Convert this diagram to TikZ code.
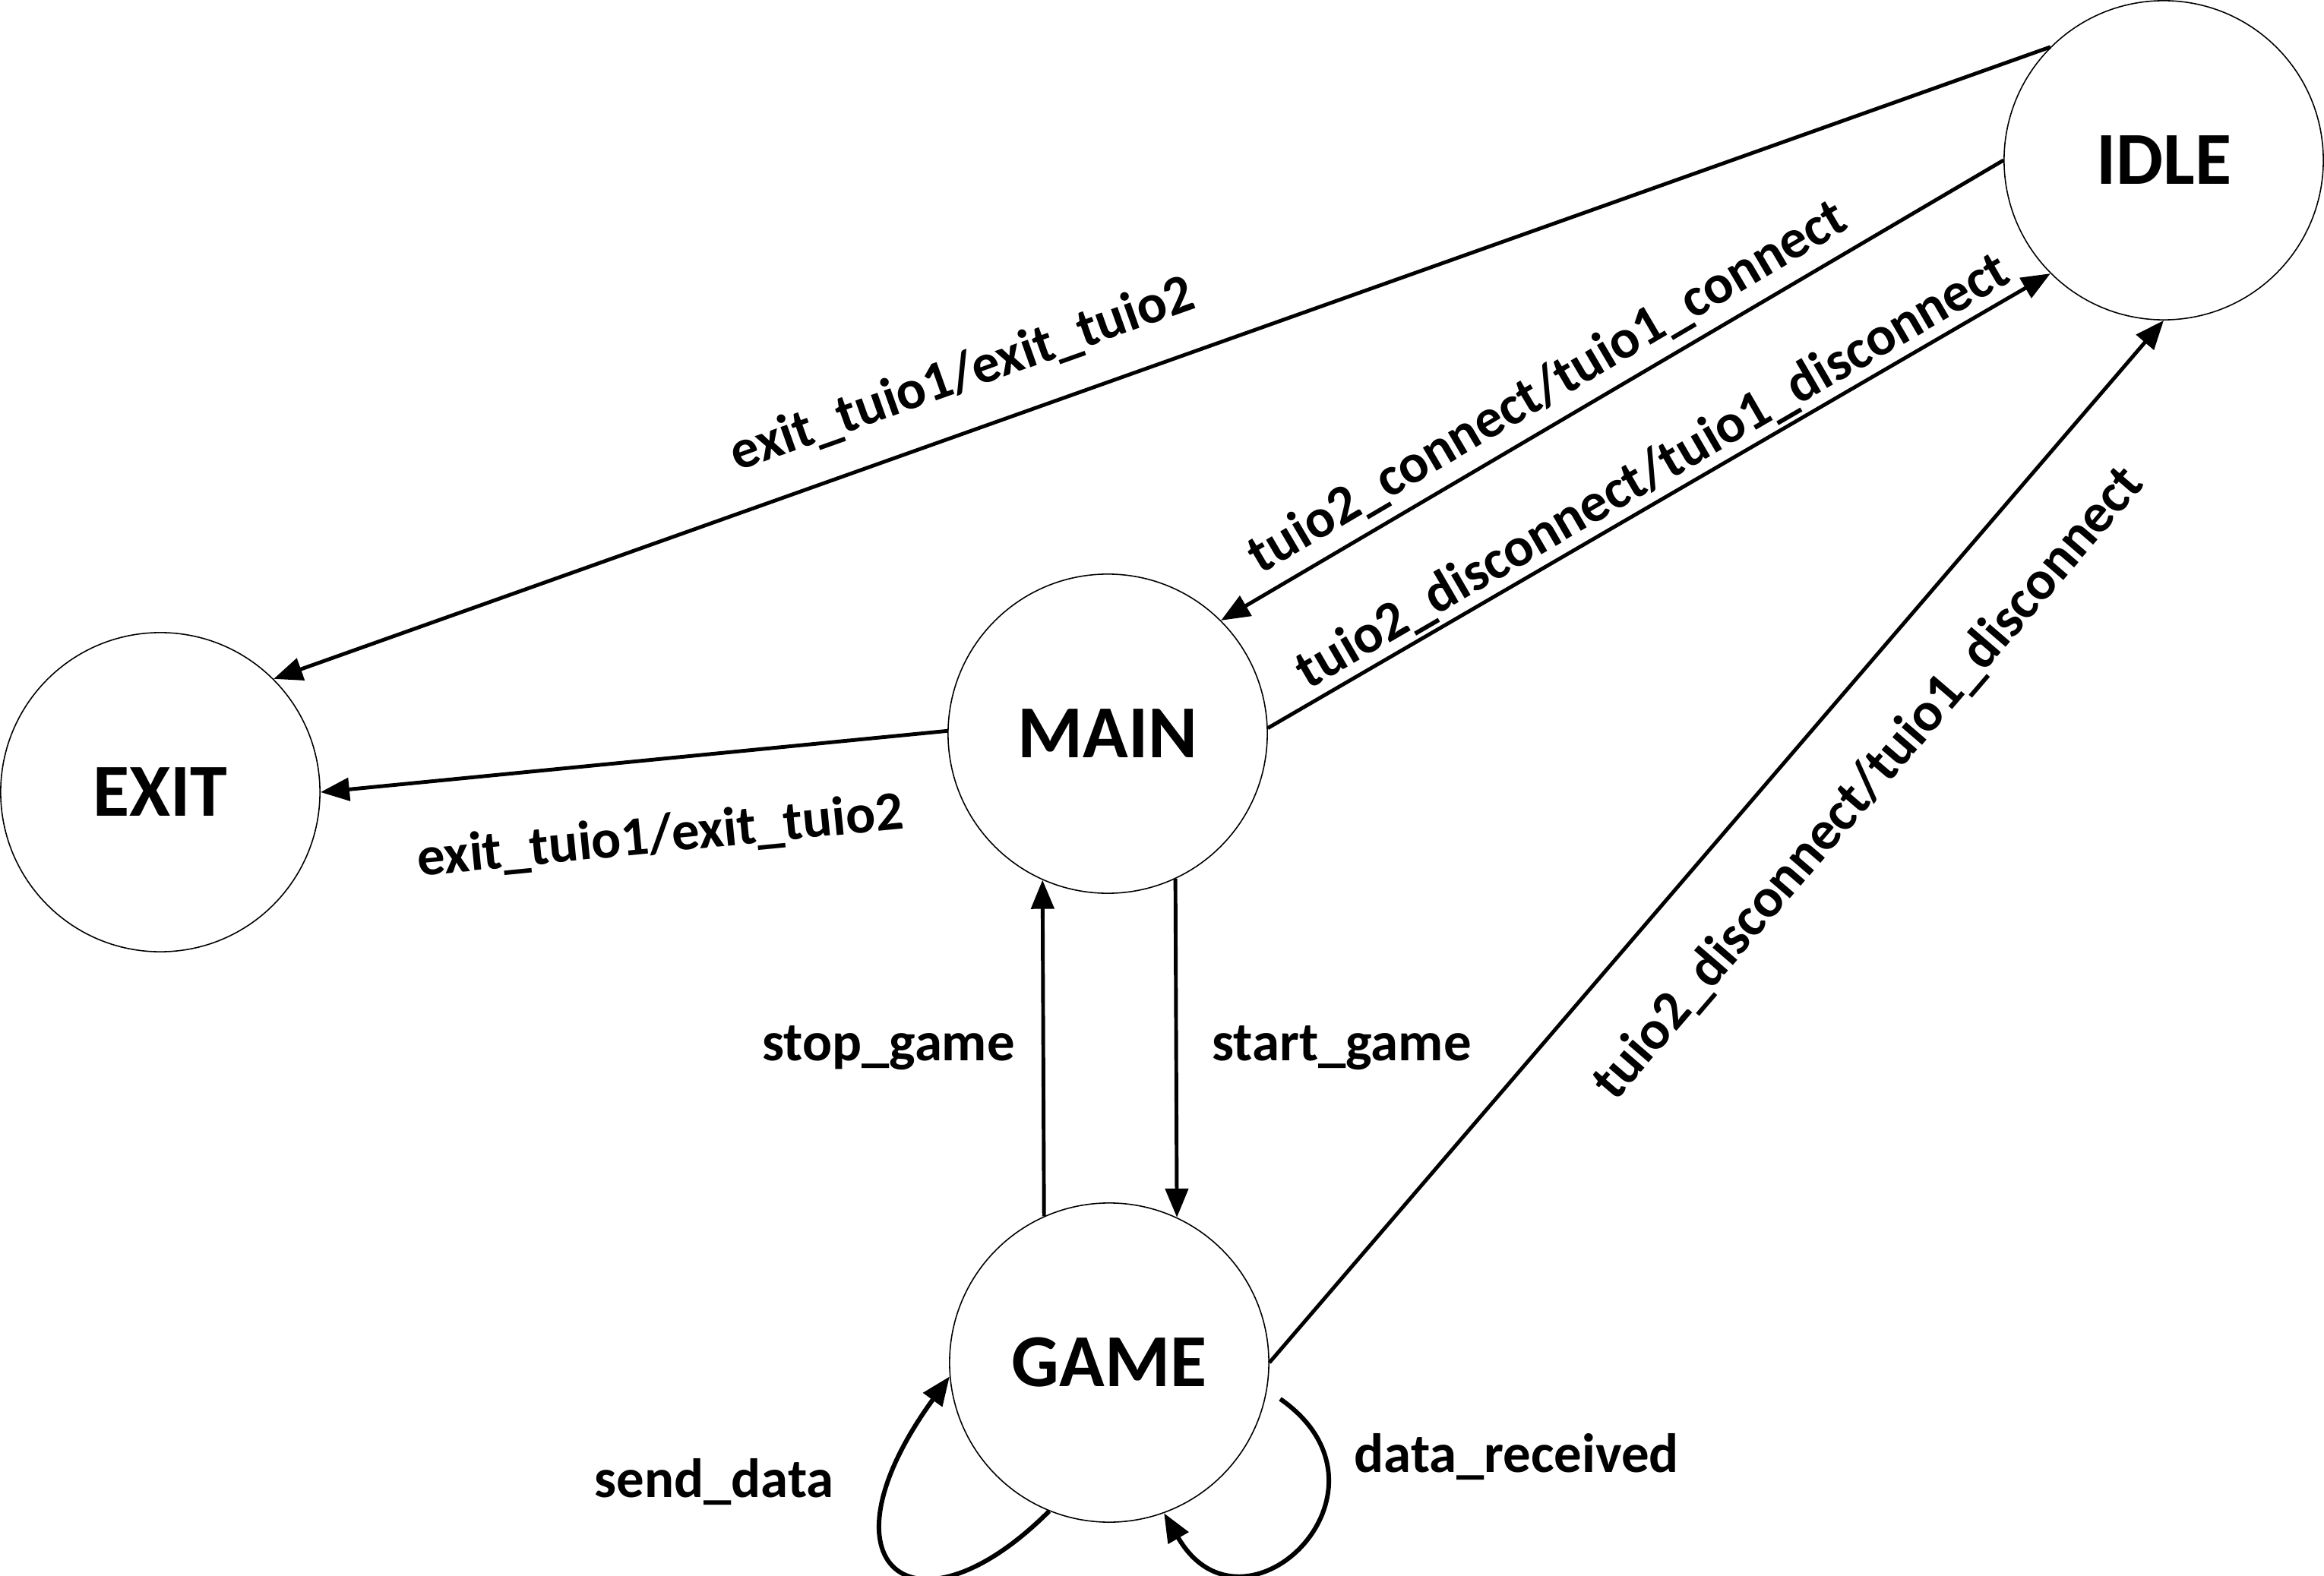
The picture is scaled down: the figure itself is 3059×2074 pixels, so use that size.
\documentclass[tikz,border=0pt]{standalone}
\usepackage{fontspec}
\setmainfont{Carlito}
\usetikzlibrary{arrows.meta,calc}
\tikzset{
  state/.style={circle, draw, line width=0.45pt, minimum size=4.2cm, inner sep=0pt,
    font=\fontsize{28}{32}\selectfont\bfseries},
  arr/.style={line width=1.4pt, -{Triangle[length=0.38cm,width=0.3cm]}},
  loop arr/.style={line width=1.7pt, -{Triangle[length=0.38cm,width=0.3cm]}},
  lab/.style={inner sep=0pt, font=\fontsize{20.7}{24}\selectfont\bfseries}
}
\begin{document}
\begin{tikzpicture}[x=0.01cm,y=0.01cm]
\useasboundingbox (0,0) rectangle (3059,2074);
\node[state] (EXIT) at (211,1031) {EXIT};
\node[state] (MAIN) at (1458,1108) {MAIN};
\node[state] (GAME) at (1460,280) {GAME};
\node[state] (IDLE) at (2848,1863) {IDLE};

\draw[arr] (IDLE.135) -- node[lab, pos=0.602, sloped, above=0.4cm] {exit\_tuio1/exit\_tuio2} (EXIT.45);
\draw[arr] (MAIN.179) -- node[lab, pos=0.47, sloped, below=0.69cm] {exit\_tuio1/exit\_tuio2} (EXIT.0);
\draw[arr] (IDLE.180) -- node[lab, pos=0.56, sloped, above=0.13cm] {tuio2\_connect/tuio1\_connect} (MAIN.45);
\draw[arr] (MAIN.2) -- node[lab, pos=0.51, sloped, above=0.04cm] {tuio2\_disconnect/tuio1\_disconnect} (IDLE.225);
\draw[arr] (GAME.0) -- node[lab, pos=0.604, sloped, below=0.69cm] {tuio2\_disconnect/tuio1\_disconnect} (IDLE.270);
\draw[arr] (GAME.114) -- node[lab, midway, left=0.35cm] {stop\_game} (MAIN.246);
\draw[arr] (MAIN.295) -- node[lab, midway, right=0.45cm] {start\_game} (GAME.65);

\coordinate (gr) at ($(GAME.center)+(-12:2.3cm)$);
\draw[loop arr] (GAME.248) to[out=225, in=234, out distance=2.5cm, in distance=3.1cm] (GAME.185);
\draw[loop arr] (gr) to[out=-35, in=300, out distance=2.1cm, in distance=2.1cm] (GAME.290);
\node[lab] (sendlbl) at (940,123) {send\_data};
\node[lab, anchor=west] (recvlbl) at (1782,156) {data\_received};
\end{tikzpicture}
\end{document}
